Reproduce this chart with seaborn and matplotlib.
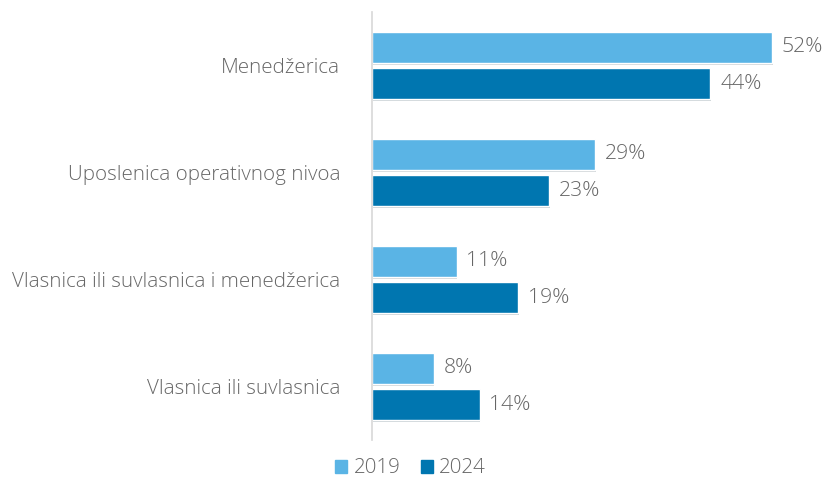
import pandas as pd
import matplotlib.pyplot as plt
import matplotlib.patheffects as pe
import seaborn as sns

# Chart data
categories = ["Menedžerica", "Uposlenica operativnog nivoa",
              "Vlasnica ili suvlasnica i menedžerica", "Vlasnica ili suvlasnica"]
years = ["2019", "2024"]
values_2019 = [52, 29, 11, 8]
values_2024 = [44, 23, 19, 14]

df = pd.DataFrame({
    "kategorija": categories * 2,
    "godina": [years[0]] * 4 + [years[1]] * 4,
    "udio": values_2019 + values_2024,
})

sns.set_theme(style="white")
plt.rcParams['font.family'] = ['Open Sans', 'DejaVu Sans']
plt.rcParams['font.weight'] = 'light'
text_col = "#666666"
palette = {"2019": "#5AB4E5", "2024": "#0076B0"}

fig = plt.figure(figsize=(8.26, 4.79), dpi=100)
ax = fig.add_axes([0.4504, 0.0814, 0.54, 0.8935])

sns.barplot(data=df, y="kategorija", x="udio", hue="godina", palette=palette,
            orient="h", width=0.68, gap=0.15, saturation=1, ax=ax, legend=False)

for bar in ax.patches:
    bar.set_path_effects([pe.SimplePatchShadow(offset=(0.5, -1.5), alpha=0.2), pe.Normal()])

for cont in ax.containers:
    ax.bar_label(cont, labels=[f"{v:.0f}%" for v in cont.datavalues], padding=7,
                 fontsize=15.3, color=text_col, fontweight='light')

ax.set_xlim(0, 58)
ax.set_ylim(3.5, -0.5)
ax.set_xlabel("")
ax.set_ylabel("")
ax.set_xticks([])
ax.tick_params(axis="y", length=0, pad=23, labelsize=14.8, labelcolor=text_col)
for lbl in ax.get_yticklabels():
    lbl.set_fontweight('light')
sns.despine(ax=ax, top=True, right=True, bottom=True, left=False)
ax.spines["left"].set_color("#D9D9D9")

handles = [plt.Rectangle((0, 0), 1, 1, color=palette[y]) for y in years]
leg = fig.legend(handles, years, loc="center", bbox_to_anchor=(0.497, 0.022), ncol=2,
                 frameon=False, fontsize=14.8, labelcolor=text_col, handlelength=0.6,
                 handleheight=0.6, handletextpad=0.3, columnspacing=1.0)

fig.savefig("out.png", dpi=100)
